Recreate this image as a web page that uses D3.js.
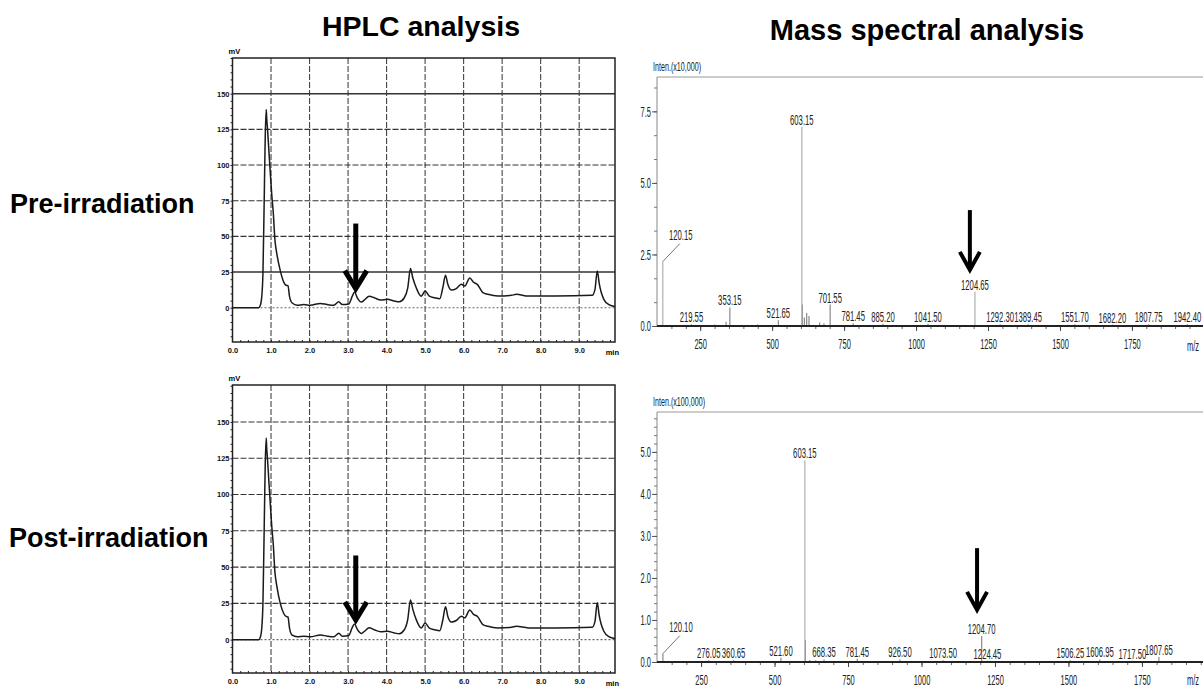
<!DOCTYPE html>
<html>
<head>
<meta charset="utf-8">
<script src="https://cdn.jsdelivr.net/npm/d3@7"></script>
<style>
  body { margin: 0; background: #fff; }
  svg { display: block; font-family: "Liberation Sans", Arial, sans-serif; }
</style>
</head>
<body>
<svg id="fig" width="1203" height="688"></svg>
<script>
// HPLC chromatograms (min, mV)
var hplcTime = [0, 0.68, 0.72, 0.76, 0.79, 0.82, 0.85, 0.875, 0.89, 0.91,
  0.94, 0.98, 1.02, 1.06, 1.1, 1.15, 1.24, 1.33, 1.39, 1.44,
  1.48, 1.55, 1.68, 1.85, 2.02, 2.28, 2.46, 2.63, 2.76, 2.85,
  3.02, 3.11, 3.17, 3.24, 3.35, 3.42, 3.55, 3.68, 3.85, 4.02,
  4.2, 4.33, 4.46, 4.55, 4.62, 4.68, 4.77, 4.9, 5.0, 5.11,
  5.25, 5.38, 5.46, 5.53, 5.59, 5.68, 5.81, 5.94, 6.03, 6.16,
  6.25, 6.36, 6.5, 6.63, 6.89, 7.24, 7.37, 7.68, 8.38, 9.34,
  9.41, 9.47, 9.52, 9.57, 9.64, 9.77, 9.93];
var hplcPre = [0, 0, 1.5, 8, 24, 70, 120, 139, 132, 125,
  112, 95, 79, 66, 48, 38, 26, 18, 15.8, 15.5,
  8, 3.3, 1.8, 2.2, 1.8, 3, 2.2, 1.8, 4.2, 2.2,
  2.7, 8.1, 11, 7, 4, 5.4, 8.1, 7, 5.4, 5.9,
  4.7, 4.2, 7, 14, 27.5, 21, 14, 8.1, 11.7, 8.1,
  7, 6.3, 14, 22.8, 16.4, 12.4, 13.4, 16.4, 15.2, 20.9,
  18, 16.2, 10.6, 9.4, 8.2, 8.7, 9.4, 8.2, 8.2, 8.7,
  12.9, 25.8, 17, 11, 5.9, 2.2, 0.8];
var hplcPost = [0, 0, 1.5, 8, 25, 72, 121, 139, 131, 124,
  111, 94, 78, 65, 47, 37, 25, 18, 16, 15.6,
  8, 3.1, 2, 2.3, 2, 3.2, 2.4, 2, 4.4, 2.3,
  2.8, 8.5, 10.7, 7, 4.2, 5.6, 8.2, 6.8, 5.5, 5.8,
  4.6, 4.1, 6.8, 14, 27.3, 21, 13.8, 8, 11.4, 8,
  6.8, 6.1, 13.5, 22.7, 16, 12.2, 13.2, 16.2, 15, 20.5,
  17.6, 16, 10.4, 9.2, 8.1, 8.5, 9.2, 8.1, 8.1, 8.6,
  12.6, 25.4, 16.6, 10.8, 5.8, 2.1, 0.8];
var hplcXTicks = [0, 1, 2, 3, 4, 5, 6, 7, 8, 9];
var hplcYTicks = [0, 25, 50, 75, 100, 125, 150];
var hplcArrowPre = [3.2, 59, 13.4];   // time, from, to (mV)
var hplcArrowPost = [3.2, 58, 13.5];

// Mass spectra (m/z, intensity)
var msXTicks = [250, 500, 750, 1000, 1250, 1500, 1750];
var msPreYTicks = [0, 2.5, 5, 7.5];
var msPostYTicks = [0, 1, 2, 3, 4, 5];
var msPreMz = [120.15, 219.55, 353.15, 521.65, 603.15, 701.55, 781.45, 885.20, 1041.50,
  1204.65, 1292.30, 1389.45, 1551.70, 1682.20, 1807.75, 1942.40];
var msPreInt = [2.25, 0.06, 0.65, 0.2, 6.96, 0.75, 0.1, 0.08, 0.08,
  1.2, 0.06, 0.06, 0.06, 0.05, 0.06, 0.06];
var msPreMinorMz = [300, 340, 450, 605, 612, 620, 628, 665, 680];
var msPreMinorInt = [0.05, 0.15, 0.05, 0.75, 0.3, 0.45, 0.35, 0.12, 0.1];
var msPostMz = [120.10, 276.05, 360.65, 521.60, 603.15, 668.35, 781.45, 926.50, 1073.50,
  1204.70, 1224.45, 1506.25, 1606.95, 1717.50, 1807.65];
var msPostInt = [0.2, 0.04, 0.04, 0.1, 4.8, 0.06, 0.08, 0.06, 0.04,
  0.62, 0.03, 0.04, 0.06, 0.03, 0.12];
var msPostMinorMz = [605, 620, 640];
var msPostMinorInt = [0.52, 0.05, 0.04];
var msArrowPre = [1187, 4.05, 1.96];
var msArrowPost = [1189, 2.71, 1.24];

var svg = d3.select('#fig');
var FONT = '"Liberation Sans", Arial, sans-serif';

function narrow(sel, sx) {
  sel.attr('transform', 'scale(' + sx + ',1)');
}

function arrow(g, cx, y0, y1, w, half, head) {
  g.append('line')
    .attr('x1', cx).attr('x2', cx)
    .attr('y1', y0).attr('y2', y1 - 3)
    .attr('stroke', '#000').attr('stroke-width', w);
  g.append('path')
    .attr('d', 'M' + (cx - half) + ',' + (y1 - head) + 'L' + cx + ',' + y1 + 'L' + (cx + half) + ',' + (y1 - head))
    .attr('fill', 'none').attr('stroke', '#000')
    .attr('stroke-width', w).attr('stroke-linejoin', 'miter');
}

function hplc(values, top, bottom, yDom, arr, solidLines) {
  var x = d3.scaleLinear().domain([0, 9.93]).range([232.5, 615]),
      y = d3.scaleLinear().domain(yDom).range([bottom, top]);
  var g = svg.append('g');

  g.selectAll('.vg').data(hplcXTicks.slice(1)).enter()
    .append('line')
    .attr('x1', function (d) { return x(d); })
    .attr('x2', function (d) { return x(d); })
    .attr('y1', top).attr('y2', bottom)
    .attr('stroke', '#444').attr('stroke-width', 1.1)
    .attr('stroke-dasharray', '6,2');

  g.selectAll('.hg').data(hplcYTicks).enter()
    .append('line')
    .attr('x1', x(0)).attr('x2', x(9.93))
    .attr('y1', function (d) { return y(d); })
    .attr('y2', function (d) { return y(d); })
    .attr('stroke', function (d) { return d === 0 ? '#666' : '#333'; })
    .attr('stroke-width', function (d) { return solidLines.indexOf(d) >= 0 ? 1.6 : 1.1; })
    .attr('stroke-dasharray', function (d) {
      if (solidLines.indexOf(d) >= 0) return null;
      return d === 0 ? '2,2' : '6,2';
    });

  g.append('rect')
    .attr('x', x(0)).attr('y', top)
    .attr('width', x(9.93) - x(0)).attr('height', bottom - top)
    .attr('fill', 'none').attr('stroke', '#222').attr('stroke-width', 1.5);

  // minor ticks
  g.append('g').attr('transform', 'translate(' + x(0) + ',0)')
    .call(d3.axisLeft(y).tickValues(d3.range(-20, 176, 5)).tickSize(2).tickFormat(''))
    .call(function (a) { a.select('.domain').remove(); a.selectAll('line').attr('stroke', '#222'); });
  g.append('g').attr('transform', 'translate(0,' + bottom + ')')
    .call(d3.axisTop(x).tickValues(d3.range(0.2, 9.9, 0.2)).tickSize(2).tickFormat(''))
    .call(function (a) { a.select('.domain').remove(); a.selectAll('line').attr('stroke', '#222'); });

  // tick labels
  g.append('g').attr('transform', 'translate(' + x(0) + ',0)')
    .call(d3.axisLeft(y).tickValues(hplcYTicks).tickSize(0).tickPadding(3))
    .call(function (a) {
      a.select('.domain').remove();
      a.selectAll('text').attr('font-size', 7.5).attr('font-weight', 'bold').attr('fill', '#111')
        .attr('font-family', FONT);
    });
  g.append('g').attr('transform', 'translate(0,' + bottom + ')')
    .call(d3.axisBottom(x).tickValues(hplcXTicks).tickSize(0).tickPadding(6).tickFormat(d3.format('.1f')))
    .call(function (a) {
      a.select('.domain').remove();
      a.selectAll('text').attr('font-size', 7.5).attr('font-weight', 'bold').attr('fill', '#111')
        .attr('font-family', FONT);
    });
  g.append('text').attr('x', x(9.86)).attr('y', bottom + 13)
    .attr('text-anchor', 'middle').attr('font-size', 7.5).attr('font-weight', 'bold').text('min');
  g.append('text').attr('x', x(0) - 4).attr('y', top - 4)
    .attr('font-size', 7.5).attr('font-weight', 'bold').text('mV');

  var line = d3.line()
    .x(function (d, i) { return x(hplcTime[i]); })
    .y(function (d) { return y(d); })
    .curve(d3.curveMonotoneX);
  g.append('path').datum(values)
    .attr('d', line)
    .attr('fill', 'none').attr('stroke', '#1a1a1a').attr('stroke-width', 1.5);

  arrow(g, x(arr[0]), y(arr[1]), y(arr[2]), 5, 11, 18);
}

function ms(mz, inten, minorMz, minorInt, yTicks, yMinor, yMax, xMax, top, base, unit, arr, mzDy) {
  var x = d3.scaleLinear().domain([100, xMax]).range([657, 1201]),
      y = d3.scaleLinear().domain([0, yMax]).range([base, top]);
  var g = svg.append('g');

  g.append('line').attr('x1', 657).attr('x2', 1203).attr('y1', top).attr('y2', top)
    .attr('stroke', '#999').attr('stroke-width', 1);
  g.append('line').attr('x1', 657).attr('x2', 657).attr('y1', top).attr('y2', base)
    .attr('stroke', '#888').attr('stroke-width', 1);

  var pk = minorMz.map(function (m, i) { return [m, minorInt[i]]; })
    .concat(mz.map(function (m, i) { return [m, inten[i]]; }));
  g.selectAll('.pk').data(pk).enter()
    .append('line')
    .attr('x1', function (d) { return x(d[0]); })
    .attr('x2', function (d) { return x(d[0]); })
    .attr('y1', base)
    .attr('y2', function (d) { return y(d[1]); })
    .attr('stroke', function (d) { return d[1] < 1 ? '#8a8a8a' : '#b0b0b0'; })
    .attr('stroke-width', 1.2);

  // axes
  g.append('g').attr('transform', 'translate(657,0)')
    .call(d3.axisLeft(y).tickValues(yMinor).tickSize(3).tickFormat(''))
    .call(function (a) { a.select('.domain').remove(); a.selectAll('line').attr('stroke', '#777'); });
  g.append('g').attr('transform', 'translate(657,0)')
    .call(d3.axisLeft(y).tickValues(yTicks).tickSize(5).tickPadding(2).tickFormat(d3.format('.1f')))
    .call(function (a) {
      a.select('.domain').remove();
      a.selectAll('line').attr('stroke', '#555');
      a.selectAll('text').attr('font-size', 15).attr('fill', '#222')
        .attr('x', -6 / 0.5).attr('font-family', FONT)
        .call(narrow, 0.5);
    });
  g.append('g').attr('transform', 'translate(0,' + base + ')')
    .call(d3.axisBottom(x).tickValues(d3.range(150, 2000, 50)).tickSize(3).tickFormat(''))
    .call(function (a) { a.select('.domain').remove(); a.selectAll('line').attr('stroke', '#666'); });
  g.append('g').attr('transform', 'translate(0,' + base + ')')
    .call(d3.axisBottom(x).tickValues(msXTicks).tickSize(5).tickPadding(7).tickFormat(d3.format('d')))
    .call(function (a) {
      a.select('.domain').remove();
      a.selectAll('line').attr('stroke', '#444');
      a.selectAll('text').attr('font-size', 15).attr('fill', '#222')
        .attr('font-family', FONT)
        .call(narrow, 0.5);
    });
  g.append('line').attr('x1', 657).attr('x2', 1203).attr('y1', base).attr('y2', base)
    .attr('stroke', '#222').attr('stroke-width', 2);

  g.append('text').attr('transform', 'translate(1193,' + (base + mzDy) + ') scale(0.5,1)')
    .attr('text-anchor', 'middle').attr('font-size', 15).attr('fill', '#222').text('m/z');
  g.append('text').attr('transform', 'translate(653,' + (top - 6) + ') scale(0.55,1)')
    .attr('font-size', 13).attr('fill', '#222').text('Inten.(' + unit + ')');

  // peak labels (first one uses a leader line)
  g.selectAll('.lbl').data(mz).enter()
    .append('text')
    .attr('transform', function (d, i) {
      var px = x(d), py = y(inten[i]) - 2;
      if (i === 0) { px = px + 18; py = py - 20; }
      return 'translate(' + px + ',' + py + ') scale(0.55,1)';
    })
    .attr('text-anchor', 'middle').attr('font-size', 14).attr('fill', '#222')
    .text(function (d) { return d.toFixed(2); });
  g.append('line')
    .attr('x1', x(mz[0])).attr('y1', y(inten[0]))
    .attr('x2', x(mz[0]) + 17).attr('y2', y(inten[0]) - 18)
    .attr('stroke', '#777').attr('stroke-width', 1);

  arrow(g, x(arr[0]), y(arr[1]), y(arr[2]), 4, 10, 18);
}

// titles
svg.append('text').attr('x', 421).attr('y', 36).attr('text-anchor', 'middle')
  .attr('font-size', 28.5).attr('font-weight', 'bold').text('HPLC analysis');
svg.append('text').attr('x', 927).attr('y', 40).attr('text-anchor', 'middle')
  .attr('font-size', 29).attr('font-weight', 'bold').text('Mass spectral analysis');
svg.append('text').attr('x', 10).attr('y', 213)
  .attr('font-size', 27).attr('font-weight', 'bold').text('Pre-irradiation');
svg.append('text').attr('x', 9).attr('y', 547)
  .attr('font-size', 27).attr('font-weight', 'bold').text('Post-irradiation');

hplc(hplcPre, 58, 342, [-24, 175], hplcArrowPre, [150, 25]);
hplc(hplcPost, 385, 673, [-23, 175.5], hplcArrowPost, []);

ms(msPreMz, msPreInt, msPreMinorMz, msPreMinorInt, msPreYTicks,
  d3.range(0, 8.7, 2.5 / 3), 8.7, 1990, 77, 326, 'x10,000', msArrowPre, 25);
ms(msPostMz, msPostInt, msPostMinorMz, msPostMinorInt, msPostYTicks,
  d3.range(0, 5.95, 0.2), 5.95, 1951, 412, 662, 'x100,000', msArrowPost, 23);
</script>
</body>
</html>
